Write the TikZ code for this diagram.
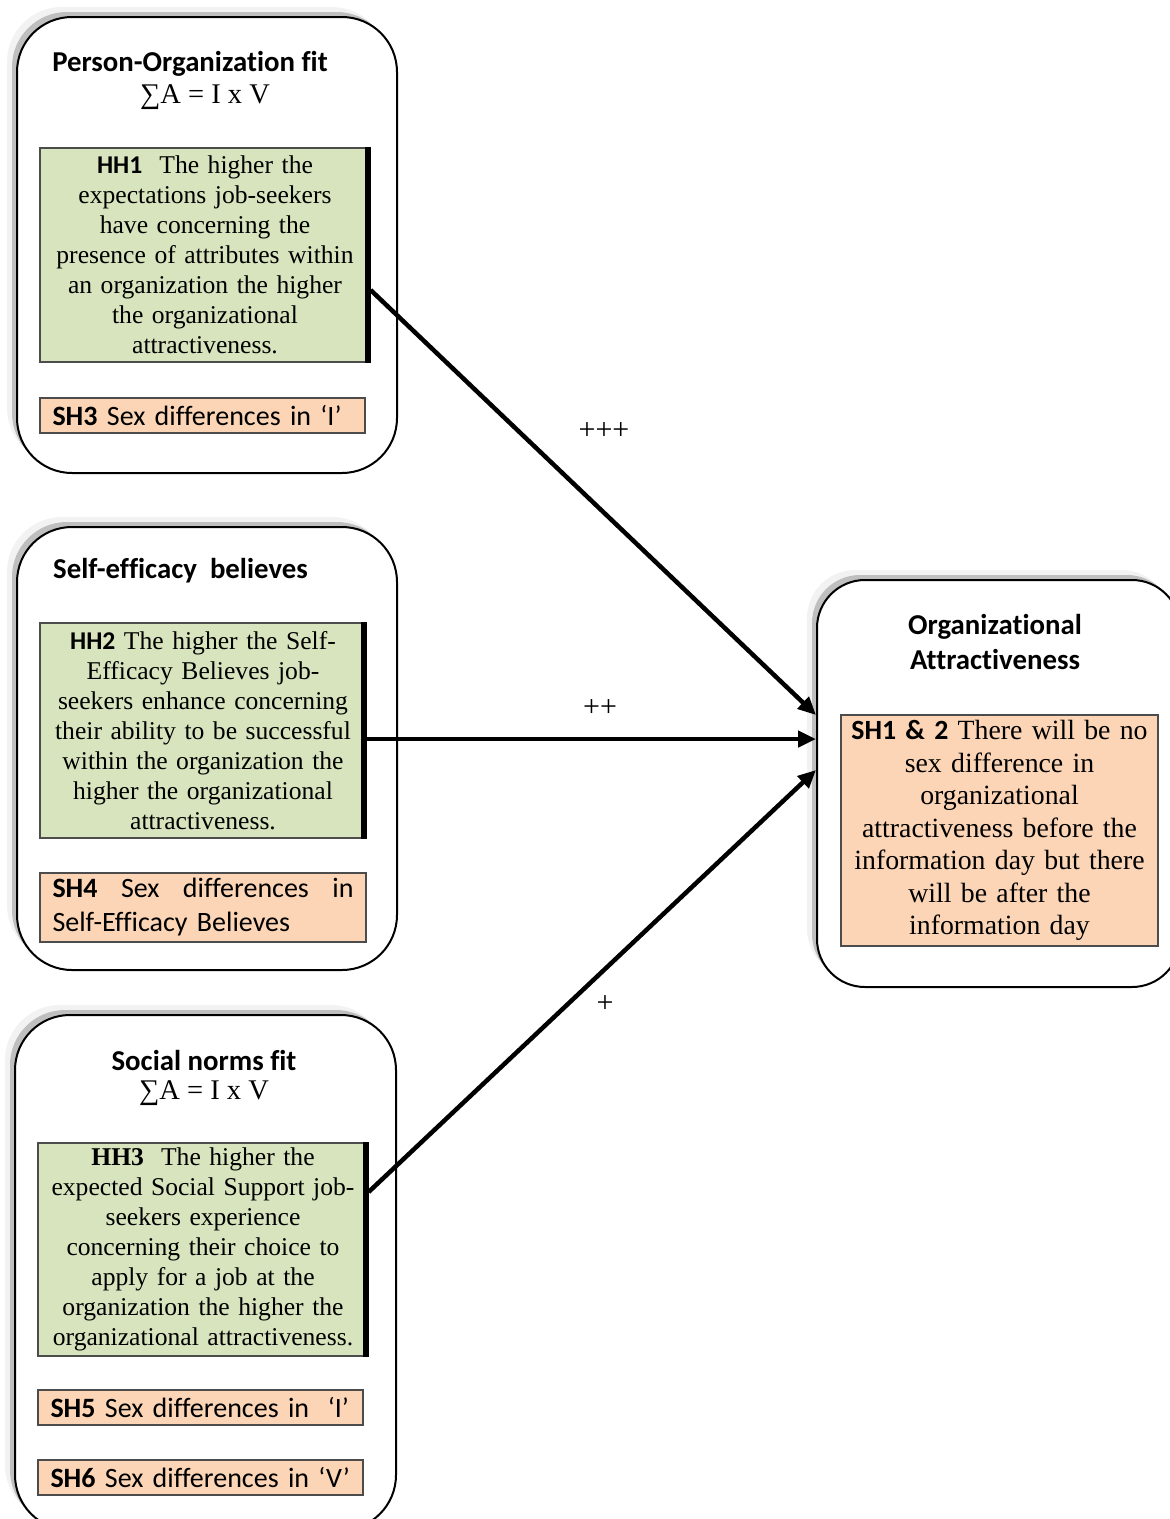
\documentclass[tikz,border=0pt]{standalone}
\usepackage{fontspec}
\setmainfont[Ligatures={TeX,NoCommon}]{Liberation Serif}
\newfontfamily\calib[Ligatures=NoCommon]{Carlito}
\usetikzlibrary{arrows.meta, positioning, shadows}
\definecolor{hgreen}{HTML}{D7E4BD}
\definecolor{sorange}{HTML}{FBD5B5}
\newcommand\pof{17}
\newcommand\sef{527}
\newcommand\snf{1015}

\begin{document}
\begin{tikzpicture}[x=1pt, y=-1pt,
    bigbox/.style={rectangle, rounded corners=55pt, draw, line width=2pt, fill=white,
        drop shadow={shadow xshift=-10pt, shadow yshift=10pt, fill=black!5, opacity=1},
        drop shadow={shadow xshift=-5pt, shadow yshift=5pt, fill=black!25, opacity=1}},
    title/.style={font=\calib\bfseries\fontsize{28.8}{35}\selectfont, inner sep=0pt, align=center},
    formula/.style={font=\fontsize{28.5}{32}\selectfont, inner sep=0pt},
    hyp/.style={rectangle, draw=black!70, line width=1.2pt, fill=hgreen, text width=320pt, inner xsep=5pt, inner ysep=2pt, align=center, font=\fontsize{25.6}{30}\selectfont},
    sex/.style={rectangle, draw=black!70, line width=1.2pt, fill=sorange, text width=300pt, inner xsep=12.5pt, inner ysep=3pt, minimum height=35pt, align=left, font=\calib\fontsize{28}{34}\selectfont},
    edge/.style={line width=6pt},
    link/.style={line width=4.5pt, -{Triangle[length=18pt, width=16pt]}},
    sign/.style={font=\fontsize{30}{32}\selectfont, inner sep=0pt}]

    \useasboundingbox (0, 0) rectangle (1170, 1519);

    % Person-Organization fit
    \node at (207, \pof + 228) [bigbox, minimum width=380pt, minimum height=456pt] (pof) {};
    \node at (190, \pof + 47) [title] (pof_t) {Person-Organization fit};
    \node at (205, \pof + 80) [formula] (pof_f) {∑A = I x V};
    \node at (205, \pof + 238) [hyp, minimum height=214pt] (hh1) {{\calib\bfseries HH1}\ \ The higher the\\ expectations job-seekers\\ have concerning the\\ presence of attributes within\\ an organization the higher\\ the organizational\\ attractiveness.};
    \node at (202.5, \pof + 398.5) [sex] (sh3) {{\bfseries SH3} Sex differences in ‘I’};
    \draw[edge] ([xshift=-3pt]hh1.north east) -- ([xshift=-3pt]hh1.south east);

    % Self-efficacy believes
    \node at (207, \sef + 221.5) [bigbox, minimum width=380pt, minimum height=443pt] (sef) {};
    \node at (53, \sef + 44) [title, anchor=west] (sef_t) {Self-efficacy\ \ believes};
    \node at (203, \sef + 203.5) [hyp, text width=316pt, minimum height=215pt] (hh2) {{\calib\bfseries HH2} The higher the Self-\\ Efficacy Believes job-\\ seekers enhance concerning\\ their ability to be successful\\ within the organization the\\ higher the organizational\\ attractiveness.};
    \node at (203, \sef + 380.5) [sex, text width=301pt, minimum height=69pt] (sh4) {{\bfseries SH4}\hfill Sex\hfill differences\hfill in\\ Self-Efficacy Believes};
    \draw[edge] ([xshift=-3pt]hh2.north east) -- ([xshift=-3pt]hh2.south east);

    % Social norms fit
    \node at (205.5, \snf + 257.5) [bigbox, minimum width=381pt, minimum height=515pt] (snf) {};
    \node at (204, \snf + 45) [title] (snf_t) {Social norms fit};
    \node at (204, \snf + 78) [formula] (snf_f) {∑A = I x V};
    \node at (203, \snf + 234.5) [hyp, minimum height=213pt] (hh3) {\textbf{HH3}\ \ The higher the\\ expected Social Support job-\\ seekers experience\\ concerning their choice to\\ apply for a job at the\\ organization the higher the\\ organizational attractiveness.};
    \node at (200.5, \snf + 392.5) [sex] (sh5) {{\bfseries SH5} Sex differences in\ \ ‘I’};
    \node at (200.5, \snf + 462.5) [sex] (sh6) {{\bfseries SH6} Sex differences in ‘V’};
    \draw[edge] ([xshift=-3pt]hh3.north east) -- ([xshift=-3pt]hh3.south east);

    % Organizational Attractiveness
    \node at (998.5, 783.5) [bigbox, rounded corners=48pt, minimum width=363pt, minimum height=407pt] (oa) {};
    \node at (995, 641.5) [title] (oa_t) {Organizational\\ Attractiveness};
    \node at (999.5, 830.5) [sex, text width=307pt, inner xsep=5pt, minimum height=231pt, align=center, font=\fontsize{27.8}{32.5}\selectfont] (sh12) {{\calib\bfseries SH1 \& 2} There will be no\\ sex difference in\\ organizational\\ attractiveness before the\\ information day but there\\ will be after the\\ information day};

    % links
    \draw[link] ([yshift=-35pt]hh1.east) -- ([yshift=68.5pt]oa.west);
    \draw[link] ([yshift=-8.5pt]hh2.east) -- ([yshift=44.5pt]oa.west);
    \draw[link] ([yshift=57.5pt]hh3.east) -- ([yshift=13.5pt]oa.west);

    \node at (604, 431) [sign] (s3) {+++};
    \node at (600, 708) [sign] (s2) {++};
    \node at (605, 1004) [sign] (s1) {+};

\end{tikzpicture}
\end{document}
